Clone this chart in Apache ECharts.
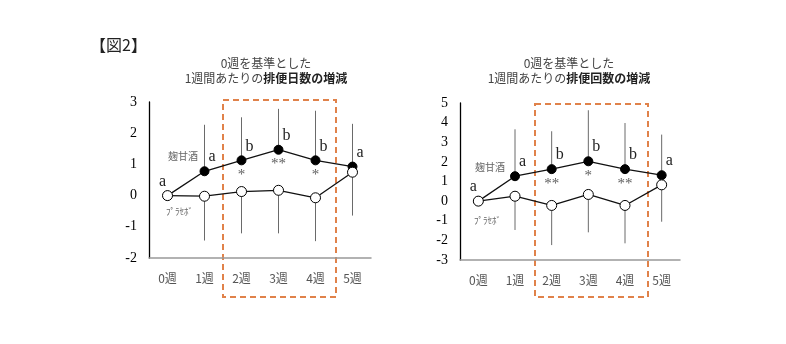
<!DOCTYPE html>
<html><head><meta charset="utf-8">
<script src="https://cdn.jsdelivr.net/npm/echarts@6/dist/echarts.min.js"></script>
<style>html,body{margin:0;padding:0;background:#fff}#c{width:786px;height:344px}</style>
</head><body><div id="c"></div>
<script>
// ---- data ----
const weeks = ['0週','1週','2週','3週','4週','5週'];
// Left: 排便日数
const daysAmazake = [0, 0.78, 1.13, 1.47, 1.13, 0.93];
const daysAmazakeUpper = [null, 2.27, 2.51, 2.78, 2.72, 2.3];
const daysPlacebo = [0, -0.02, 0.13, 0.17, -0.07, 0.75];
const daysPlaceboLower = [null, -1.44, -1.21, -1.21, -1.46, -0.64];
const daysLetters = ['a','a','b','b','b','a'];
const daysStars = ['','','*','**','*',''];
// Right: 排便回数
const countAmazake = [0, 1.27, 1.63, 2.03, 1.63, 1.32];
const countAmazakeUpper = [null, 3.66, 3.56, 4.63, 3.98, 3.39];
const countPlacebo = [0, 0.25, -0.22, 0.34, -0.22, 0.83];
const countPlaceboLower = [null, -1.47, -2.24, -1.59, -2.15, -1.05];
const countLetters = ['a','a','b','b','b','a'];
const countStars = ['','','**','*','**',''];
const daysTicks = {min:-2, max:3, interval:1};
const countTicks = {min:-3, max:5, interval:1};

const chart = echarts.init(document.getElementById('c'));
const serif = '"Liberation Serif", "DejaVu Serif", serif';
const sans = '"Noto Sans CJK JP", "Noto Sans", sans-serif';

function errSeries(idx, base, ends) {
  const data = [];
  base.forEach((v, i) => { if (ends[i] !== null) data.push([i, v, ends[i]]); });
  return {
    type: 'custom', xAxisIndex: idx, yAxisIndex: idx, z: 1, silent: true,
    data,
    renderItem(params, api) {
      const p1 = api.coord([api.value(0), api.value(1)]);
      const p2 = api.coord([api.value(0), api.value(2)]);
      return {type: 'line', shape: {x1: p1[0], y1: p1[1], x2: p2[0], y2: p2[1]},
        style: {stroke: '#6a6a6a', lineWidth: 1}};
    }
  };
}
function lineSeries(idx, vals, letters, filled) {
  return {
    type: 'line', xAxisIndex: idx, yAxisIndex: idx, z: filled ? 3 : 4,
    symbol: 'circle', symbolSize: filled ? 9 : 10,
    lineStyle: {color: '#111', width: 1.3},
    itemStyle: {color: filled ? '#000' : '#fff', borderColor: '#000', borderWidth: 1},
    data: vals.map((v, i) => {
      const d = {value: v};
      if (letters) {
        d.label = {show: true, formatter: letters[i],
          position: i === 0 ? [0, -17] : [9, -17],
          align: i === 0 ? 'center' : 'left',
          fontFamily: serif, fontSize: 16, color: '#222'};
      }
      return d;
    })
  };
}
function starSeries(idx, vals, stars) {
  return {
    type: 'scatter', xAxisIndex: idx, yAxisIndex: idx, z: 5, symbolSize: 0, silent: true,
    data: vals.map((v, i) => ({value: [i, v], label: {show: stars[i] !== '', formatter: stars[i],
      position: [0, 7], align: 'center', fontFamily: serif, fontSize: 15, color: '#333'}}))
  };
}
function yAx(idx, t) {
  return {type: 'value', gridIndex: idx, min: t.min, max: t.max, interval: t.interval,
    axisLine: {show: true, lineStyle: {color: '#000', width: 1.3}}, axisTick: {show: false},
    splitLine: {show: false},
    axisLabel: {fontFamily: serif, fontSize: 14, color: '#000', margin: 12}};
}
function xAx(idx) {
  return {type: 'category', gridIndex: idx, data: weeks, boundaryGap: true,
    axisLine: {show: true, onZero: false, lineStyle: {color: '#999', width: 1.5}}, axisTick: {show: false},
    axisLabel: {fontFamily: sans, fontSize: 12, color: '#555', margin: 14}};
}
function title(cx, main, bold) {
  return [
    {type: 'text', x: cx, y: 63, style: {text: '0週を基準とした', font: '12px ' + sans, fill: '#444', align: 'center', verticalAlign: 'middle'}},
    {type: 'text', x: cx, y: 78, style: {text: '{n|' + main + '}{b|' + bold + '}', align: 'center', verticalAlign: 'middle',
      rich: {n: {fontFamily: sans, fontSize: 12, fill: '#444'}, b: {fontFamily: sans, fontSize: 12, fontWeight: 'bold', fill: '#222'}}}}
  ];
}

chart.setOption({
  animation: false,
  grid: [
    {left: 149, top: 102, width: 222, height: 156},
    {left: 460, top: 103, width: 220, height: 157}
  ],
  xAxis: [xAx(0), xAx(1)],
  yAxis: [yAx(0, daysTicks), yAx(1, countTicks)],
  series: [
    errSeries(0, daysAmazake, daysAmazakeUpper),
    errSeries(0, daysPlacebo, daysPlaceboLower),
    lineSeries(0, daysPlacebo, null, false),
    lineSeries(0, daysAmazake, daysLetters, true),
    starSeries(0, daysAmazake, daysStars),
    errSeries(1, countAmazake, countAmazakeUpper),
    errSeries(1, countPlacebo, countPlaceboLower),
    lineSeries(1, countPlacebo, null, false),
    lineSeries(1, countAmazake, countLetters, true),
    starSeries(1, countAmazake, countStars)
  ],
  graphic: [
    {type: 'text', x: 90, y: 45, style: {text: '【図2】', font: '16px ' + sans, fill: '#222', verticalAlign: 'middle'}},
    ...title(266, '1週間あたりの', '排便日数の増減'),
    ...title(569, '1週間あたりの', '排便回数の増減'),
    {type: 'text', left: 168, top: 151, style: {text: '麹甘酒', font: '10px ' + sans, fill: '#666'}},
    {type: 'text', left: 166, top: 207, style: {text: 'ﾌﾟﾗｾﾎﾞ', font: '9px ' + sans, fill: '#666'}},
    {type: 'text', left: 475, top: 162, style: {text: '麹甘酒', font: '10px ' + sans, fill: '#666'}},
    {type: 'text', left: 474, top: 216, style: {text: 'ﾌﾟﾗｾﾎﾞ', font: '9px ' + sans, fill: '#666'}},
    {type: 'rect', shape: {x: 223, y: 100, width: 113, height: 197}, z: 0,
      style: {fill: 'none', stroke: '#e0824a', lineWidth: 2, lineDash: [6, 4]}},
    {type: 'rect', shape: {x: 535, y: 104, width: 113, height: 193}, z: 0,
      style: {fill: 'none', stroke: '#e0824a', lineWidth: 2, lineDash: [6, 4]}}
  ]
});
</script></body></html>
